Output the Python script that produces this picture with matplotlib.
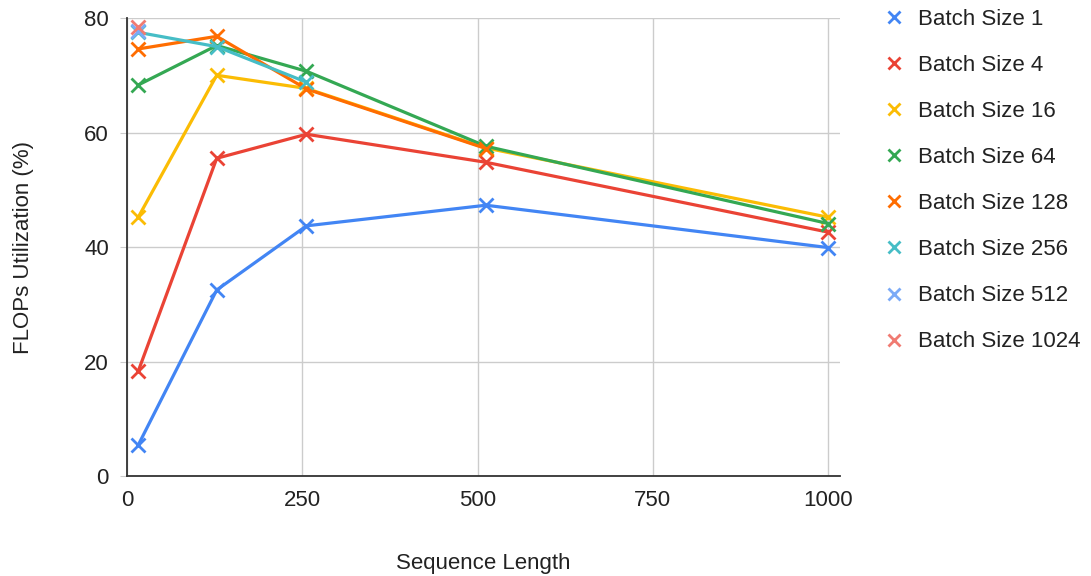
import matplotlib.pyplot as plt

plt.rcParams['font.family'] = ['Liberation Sans', 'DejaVu Sans']

# Sequence lengths
seq_len = [16, 128, 256, 512, 1000]

# FLOPs utilization (%) per batch size (shorter lists stop early)
batch_1 = [5.4, 32.5, 43.7, 47.3, 39.9]
batch_4 = [18.3, 55.5, 59.7, 54.8, 42.6]
batch_16 = [45.2, 70.0, 67.7, 57.3, 45.2]
batch_64 = [68.3, 75.2, 70.7, 57.6, 44.1]
batch_128 = [74.6, 76.8, 67.6, 57.2]
batch_256 = [77.5, 75.0, 68.8]
batch_512 = [77.8]
batch_1024 = [78.5]

series = [
    ("Batch Size 1", batch_1, "#4285F4"),
    ("Batch Size 4", batch_4, "#EA4335"),
    ("Batch Size 16", batch_16, "#FBBC04"),
    ("Batch Size 64", batch_64, "#34A853"),
    ("Batch Size 128", batch_128, "#FF6D01"),
    ("Batch Size 256", batch_256, "#46BDC6"),
    ("Batch Size 512", batch_512, "#7BAAF7"),
    ("Batch Size 1024", batch_1024, "#F07B72"),
]

fs = 16
fig = plt.figure(figsize=(10.91, 5.76), dpi=100)
ax = fig.add_axes([0.1164, 0.1736, 0.6536, 0.7951])

for label, vals, color in series:
    ax.plot(seq_len[:len(vals)], vals, color=color, linewidth=2.3,
            marker="x", markersize=10, markeredgewidth=2.0, label=label)

ax.set_xlim(0, 1017)
ax.set_ylim(0, 80)
ax.set_xticks([0, 250, 500, 750, 1000])
ax.set_yticks([0, 20, 40, 60, 80])
ax.grid(True, color="#cccccc", linewidth=1)
ax.set_axisbelow(True)
for s in ["top", "right"]:
    ax.spines[s].set_visible(False)
for s in ["left", "bottom"]:
    ax.spines[s].set_color("#333333")
    ax.spines[s].set_linewidth(1.3)
ax.tick_params(axis="y", length=5, color="#cccccc", labelsize=fs, labelcolor="#222222", pad=8)
ax.tick_params(axis="x", length=0, labelsize=fs, labelcolor="#222222", pad=10)

ax.set_xlabel("Sequence Length", fontsize=fs, color="#222222", labelpad=30)
ax.set_ylabel("FLOPs Utilization (%)", fontsize=fs, color="#222222", labelpad=36)

leg = ax.legend(loc="upper left", bbox_to_anchor=(1.035, 1.064), frameon=False,
                fontsize=fs, labelspacing=1.13, handlelength=0.8, handletextpad=0.7,
                labelcolor="#222222")
for h in leg.legend_handles:
    h.set_linestyle("None")
    h.set_markersize(9)

fig.savefig("out.png", dpi=100)
